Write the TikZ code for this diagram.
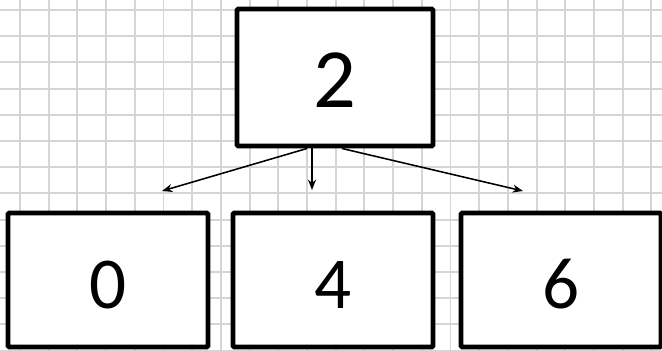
\documentclass[tikz,border=0pt]{standalone}
\usepackage{fontspec}
\setmainfont{Carlito}
\usepackage{xcolor}
\usetikzlibrary{arrows.meta, positioning, calc}
\definecolor{gridgray}{HTML}{D4D6D0}

\begin{document}
\begin{tikzpicture}[
  x=0.025cm, y=-0.025cm,
  box/.style={draw=black, line width=3.5pt, fill=white, rounded corners=1pt,
              inner sep=0pt, text depth=0pt},
  rootbox/.style={box, minimum width=4.9cm, minimum height=3.425cm,
                  text height=1.52cm, font=\fontsize{60}{60}\selectfont},
  leafbox/.style={box, minimum width=5cm, minimum height=3.35cm,
                  text height=1.4cm, font=\fontsize{52}{52}\selectfont},
  arr/.style={-{Stealth[length=2.6mm, width=2mm]}, line width=1.1pt},
  gridline/.style={draw=gridgray, line width=1.4pt}
]
\useasboundingbox (0,0) rectangle (662,350);
\fill[white] (0,0) rectangle (662,350);
% background grid
\begin{scope}
\clip (0,0) rectangle (662,350);
\foreach \gx in {0,...,22} \draw[gridline] (20+28.7*\gx,0) -- (20+28.7*\gx,350);
\foreach \gy in {0,...,13} \draw[gridline] (0,10+26.2*\gy) -- (662,10+26.2*\gy);
\end{scope}

\node[rootbox] (root) at (335,77.5) {2};
\node[leafbox] (left) at (108,280) {0};
\node[leafbox] (mid) at (333,280) {4};
\node[leafbox] (right) at (561,280) {6};

\coordinate (lefttip) at (162,191);
\coordinate (midtip) at (312,190);
\coordinate (righttip) at (523,191);

\draw[arr] ($(root.south)+(-28,0)$) -- (lefttip);
\draw[arr] ($(root.south)+(-23,0)$) -- (midtip);
\draw[arr] ($(root.south)+(7,0)$) -- (righttip);
\end{tikzpicture}
\end{document}
